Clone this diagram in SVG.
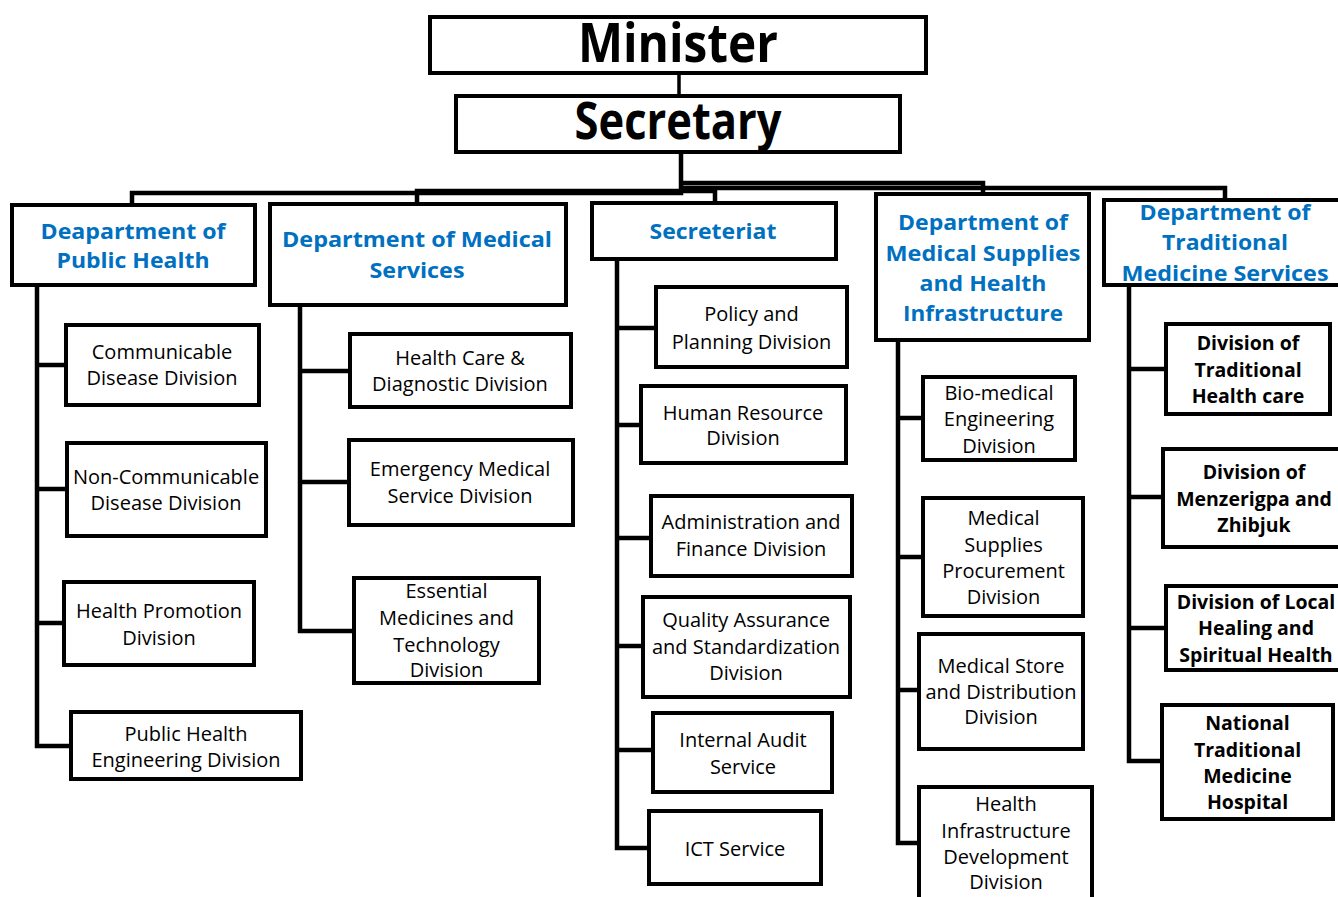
<svg xmlns="http://www.w3.org/2000/svg" width="1338" height="897" viewBox="0 0 1338 897">
<style>
.box{fill:#fff;stroke:#000;stroke-width:4}
.con{fill:none;stroke:#000;stroke-width:4.5;stroke-linecap:square;stroke-linejoin:miter}
.t{font-family:"Open Sans","Noto Sans","Liberation Sans",sans-serif;font-size:20px;fill:#000;text-anchor:middle;dominant-baseline:central}
.b{font-weight:bold;font-size:19.5px}
.d{font-family:"Open Sans","Noto Sans","Liberation Sans",sans-serif;font-size:22px;font-weight:bold;fill:#0070C0;text-anchor:middle;dominant-baseline:central}
.h{font-family:"Open Sans","Noto Sans","Liberation Sans",sans-serif;font-weight:bold;fill:#000;text-anchor:middle}
</style>
<rect width="1338" height="897" fill="#fff"/>
<g id="connectors">
<path class="con" style="stroke-width:3.5" d="M679 73 V96"/>
<path class="con" d="M681 152 V193 M132 205 V193 H681 M417 204 V191 H681 M715 203 V191 H681 M983 194 V183 H681 M1225 200 V188 H681"/>
<path class="con" d="M37 285 V746 H71 M37 365 H66 M37 489 H67 M37 623 H64"/>
<path class="con" d="M300 305 V631 H354 M300 371 H350 M300 482 H349"/>
<path class="con" d="M617 259 V848 H649 M617 328 H656 M617 425 H641 M617 538 H651 M617 646 H643 M617 750 H653"/>
<path class="con" d="M898 340 V843 H919 M898 418 H923 M898 557 H923 M898 690 H919"/>
<path class="con" d="M1129 285 V761 H1162 M1129 369 H1166 M1129 497 H1163 M1129 628 H1166"/>
</g>
<g id="minister"><rect class="box" x="430" y="17" width="496" height="56"/><text class="h" x="678" y="62" font-size="54" textLength="200" lengthAdjust="spacingAndGlyphs">Minister</text></g>
<g id="secretary"><rect class="box" x="456" y="96" width="444" height="56"/><text class="h" x="678" y="139" font-size="52" textLength="207" lengthAdjust="spacingAndGlyphs">Secretary</text></g>
<g id="dept-public-health"><rect class="box" x="12" y="205" width="243" height="80"/>
<text class="d" x="133" y="230" textLength="185" lengthAdjust="spacingAndGlyphs">Deapartment of</text>
<text class="d" x="133" y="259" textLength="153" lengthAdjust="spacingAndGlyphs">Public Health</text></g>
<g id="dept-medical-services"><rect class="box" x="270" y="204" width="296" height="101"/>
<text class="d" x="417" y="238" textLength="270" lengthAdjust="spacingAndGlyphs">Department of Medical</text>
<text class="d" x="417" y="269" textLength="95" lengthAdjust="spacingAndGlyphs">Services</text></g>
<g id="secretariat"><rect class="box" x="592" y="203" width="244" height="56"/>
<text class="d" x="713" y="230" textLength="127" lengthAdjust="spacingAndGlyphs">Secreteriat</text></g>
<g id="dept-medical-supplies"><rect class="box" x="876" y="194" width="213" height="146"/>
<text class="d" x="983" y="221" textLength="170" lengthAdjust="spacingAndGlyphs">Department of</text>
<text class="d" x="983" y="252" textLength="195" lengthAdjust="spacingAndGlyphs">Medical Supplies</text>
<text class="d" x="983" y="282" textLength="127" lengthAdjust="spacingAndGlyphs">and Health</text>
<text class="d" x="983" y="312" textLength="160" lengthAdjust="spacingAndGlyphs">Infrastructure</text></g>
<g id="dept-traditional"><rect class="box" x="1104" y="200" width="244" height="85"/>
<text class="d" x="1225" y="211" textLength="171" lengthAdjust="spacingAndGlyphs">Department of</text>
<text class="d" x="1225" y="241" textLength="126" lengthAdjust="spacingAndGlyphs">Traditional</text>
<text class="d" x="1225" y="272" textLength="207" lengthAdjust="spacingAndGlyphs">Medicine Services</text></g>
<g id="communicable"><rect class="box" x="66" y="325" width="193" height="80"/>
<text class="t" x="162" y="351.5">Communicable</text><text class="t" x="162" y="377.5">Disease Division</text></g>
<g id="non-communicable"><rect class="box" x="67" y="443" width="199" height="93"/>
<text class="t" x="166" y="476">Non-Communicable</text><text class="t" x="166" y="502">Disease Division</text></g>
<g id="health-promotion"><rect class="box" x="64" y="582" width="190" height="83"/>
<text class="t" x="159" y="610">Health Promotion</text><text class="t" x="159" y="637">Division</text></g>
<g id="public-health-engineering"><rect class="box" x="71" y="712" width="230" height="67"/>
<text class="t" x="186" y="733">Public Health</text><text class="t" x="186" y="759">Engineering Division</text></g>
<g id="health-care"><rect class="box" x="350" y="334" width="221" height="73"/>
<text class="t" x="460" y="357">Health Care &amp;</text><text class="t" x="460" y="383.5">Diagnostic Division</text></g>
<g id="emergency"><rect class="box" x="349" y="440" width="224" height="85"/>
<text class="t" x="460" y="468.5">Emergency Medical</text><text class="t" x="460" y="495">Service Division</text></g>
<g id="essential-medicines"><rect class="box" x="354" y="578" width="185" height="105"/>
<text class="t" x="446.5" y="590">Essential</text><text class="t" x="446.5" y="617">Medicines and</text><text class="t" x="446.5" y="644">Technology</text><text class="t" x="446.5" y="669.5">Division</text></g>
<g id="policy"><rect class="box" x="656" y="287" width="191" height="80"/>
<text class="t" x="751.5" y="313.5">Policy and</text><text class="t" x="751.5" y="341">Planning Division</text></g>
<g id="human-resource"><rect class="box" x="641" y="386" width="205" height="77"/>
<text class="t" x="743" y="412">Human Resource</text><text class="t" x="743" y="437.5">Division</text></g>
<g id="admin-finance"><rect class="box" x="651" y="496" width="201" height="80"/>
<text class="t" x="751" y="521">Administration and</text><text class="t" x="751" y="548.5">Finance Division</text></g>
<g id="quality"><rect class="box" x="643" y="597" width="207" height="100"/>
<text class="t" x="746" y="619.5">Quality Assurance</text><text class="t" x="746" y="646">and Standardization</text><text class="t" x="746" y="672.5">Division</text></g>
<g id="internal-audit"><rect class="box" x="653" y="713" width="179" height="79"/>
<text class="t" x="743" y="739">Internal Audit</text><text class="t" x="743" y="766">Service</text></g>
<g id="ict"><rect class="box" x="649" y="811" width="172" height="73"/>
<text class="t" x="735" y="848">ICT Service</text></g>
<g id="bio-medical"><rect class="box" x="923" y="377" width="152" height="83"/>
<text class="t" x="999" y="392">Bio-medical</text><text class="t" x="999" y="418.5">Engineering</text><text class="t" x="999" y="445">Division</text></g>
<g id="procurement"><rect class="box" x="923" y="498" width="160" height="118"/>
<text class="t" x="1003.5" y="517">Medical</text><text class="t" x="1003.5" y="544">Supplies</text><text class="t" x="1003.5" y="570">Procurement</text><text class="t" x="1003.5" y="596.5">Division</text></g>
<g id="medical-store"><rect class="box" x="919" y="634" width="164" height="115"/>
<text class="t" x="1001" y="665">Medical Store</text><text class="t" x="1001" y="691">and Distribution</text><text class="t" x="1001" y="716.5">Division</text></g>
<g id="health-infrastructure"><rect class="box" x="919" y="787" width="173" height="125"/>
<text class="t" x="1006" y="803.5">Health</text><text class="t" x="1006" y="830">Infrastructure</text><text class="t" x="1006" y="856">Development</text><text class="t" x="1006" y="881.5">Division</text></g>
<g id="traditional-health-care"><rect class="box" x="1166" y="324" width="164" height="90"/>
<text class="t b" x="1248" y="342.5">Division of</text><text class="t b" x="1248" y="369">Traditional</text><text class="t b" x="1248" y="395.5">Health care</text></g>
<g id="menzerigpa"><rect class="box" x="1163" y="449" width="185" height="98"/>
<text class="t b" x="1254" y="471.5">Division of</text><text class="t b" x="1254" y="498">Menzerigpa and</text><text class="t b" x="1254" y="524">Zhibjuk</text></g>
<g id="local-healing"><rect class="box" x="1166" y="586" width="182" height="84"/>
<text class="t b" x="1256" y="601">Division of Local</text><text class="t b" x="1256" y="627">Healing and</text><text class="t b" x="1256" y="654">Spiritual Health</text></g>
<g id="national-hospital"><rect class="box" x="1162" y="705" width="171" height="114"/>
<text class="t b" x="1247.5" y="722">National</text><text class="t b" x="1247.5" y="749">Traditional</text><text class="t b" x="1247.5" y="775">Medicine</text><text class="t b" x="1247.5" y="801.5">Hospital</text></g>
</svg>
